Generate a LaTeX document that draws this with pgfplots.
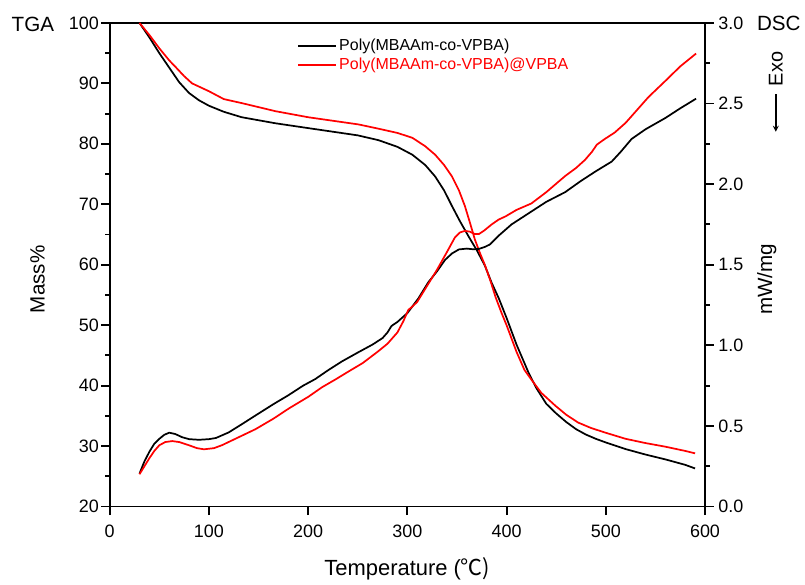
\documentclass[border=0pt]{standalone}
\usepackage{fontspec}
\setmainfont{Liberation Sans}
\newfontfamily\cjk{Noto Sans CJK SC}
\usepackage{pgfplots}
\pgfplotsset{compat=1.18}
\begin{document}
\begin{tikzpicture}[font=\fontsize{13.5}{15}\selectfont]
\pgfplotsset{
 common/.style={width=447.75pt,height=363.75pt,scale only axis,
  xmin=0,xmax=600,tick align=outside,
  axis line style={line width=1.4pt},
  every tick/.style={black,line width=1.4pt},
  major tick length=6.5pt,minor tick length=3.5pt,
  /pgf/number format/assume math mode=true,
  clip=false}
}
\begin{axis}[common,
  ymin=20,ymax=100,
  xtick={0,100,...,600},ytick={20,30,...,100},minor y tick num=1,
  xtick pos=bottom,ytick pos=left,
  yticklabel style={inner sep=1.5pt},
  xticklabel style={inner sep=1pt,yshift=-6pt},
  xlabel={Temperature (\cjk{℃})},
  xlabel style={at={(axis description cs:0.5,0)},anchor=center,yshift=-46.5pt,font=\fontsize{16.5}{18}\selectfont},
  ylabel={Mass\%},
  ylabel style={at={(axis description cs:-0.121,0.47)},anchor=center,font=\fontsize{15.5}{17}\selectfont},
  legend style={draw=none,fill=none,at={(axis description cs:0.313,0.975)},anchor=north west,
    font=\fontsize{12}{13.5}\selectfont,row sep=0pt,inner sep=1pt},
  legend cell align=left,
  legend image code/.code={\draw[#1,line width=1.3pt] (0pt,0pt)--(28pt,0pt);}
 ]
 \addplot[black,line width=1.3pt,line join=round] coordinates {
 (30,100) (40,97.6) (50,95.0) (60,92.6) (70,90.2) (80,88.4) (90,87.2) (100,86.3)
 (115,85.3) (133,84.4) (167,83.4) (200,82.6) (250,81.4) (271,80.6) (290,79.5)
 (305,78.2) (318,76.5) (328,74.6) (337,72.3) (345,69.7) (353,67.2) (362,64.6)
 (370,62.4) (378,59.9) (385,57.0) (392,54.5) (400,51.2) (410,46.8) (422,42.2)
 (430,39.6) (440,37.0) (450,35.4) (460,34.0) (470,32.8) (480,31.9) (490,31.2)
 (500,30.6) (520,29.5) (540,28.6) (560,27.8) (580,26.9) (590,26.3)};
 \addlegendentry{Poly(MBAAm-co-VPBA)}
 \addplot[red,line width=1.3pt,line join=round] coordinates {
 (30,100) (40,98.0) (50,95.8) (60,93.8) (67,92.6) (75,91.2) (83,90.0) (100,88.7)
 (115,87.4) (134,86.7) (167,85.4) (200,84.4) (251,83.2) (271,82.5) (290,81.8)
 (305,81.0) (318,79.6) (328,78.2) (337,76.5) (345,74.6) (352,72.3) (358,69.7)
 (363,67.0) (368,64.2) (373,62.0) (378.5,59.8) (384,57.2) (389,54.6) (395,52.0)
 (400,50.0) (410,45.6) (418,42.6) (425,41.0) (435,38.8) (449,36.7) (460,35.2)
 (472,33.9) (485,33.0) (500,32.2) (520,31.2) (540,30.5) (560,29.9) (580,29.2) (590,28.8)};
 \addlegendentry{\textcolor{red}{Poly(MBAAm-co-VPBA)@VPBA}}
 \node[anchor=center,font=\fontsize{15.5}{17}\selectfont] at (axis description cs:-0.129,0.996) {TGA};
 \path (axis description cs:-0.1843,-0.1526) (axis description cs:1.1642,1.0474);
\end{axis}
\begin{axis}[common,
  ymin=0,ymax=3,
  axis x line=none,axis y line*=right,
  ytick={0,0.5,...,3},minor y tick num=1,
  yticklabel style={/pgf/number format/.cd,fixed,fixed zerofill,precision=1},
  ylabel={mW/mg},
  ylabel style={at={(axis description cs:1.104,0.47)},anchor=center,font=\fontsize{15.5}{17}\selectfont},
 ]
 \addplot[black,line width=1.3pt,line join=round] coordinates {
 (30,0.204) (35,0.28) (40,0.34) (45,0.39) (50,0.42) (55,0.445) (60,0.458) (66,0.45)
 (73,0.43) (80,0.418) (90,0.414) (100,0.418) (107,0.425) (120,0.46) (133,0.51)
 (147,0.565) (165,0.635) (180,0.69) (195,0.75) (207,0.79) (220,0.845) (234,0.90)
 (250,0.955) (265,1.005) (275,1.045) (280,1.08) (284,1.12) (290,1.145) (300,1.20)
 (311,1.29) (321,1.39) (330,1.46) (338,1.53) (345,1.57) (352,1.595) (360,1.60)
 (366,1.596) (372,1.598) (378,1.61) (383,1.625) (392,1.68) (405,1.75) (415,1.79)
 (425,1.83) (440,1.89) (459,1.95) (475,2.02) (490,2.08) (506,2.14) (515,2.20)
 (526,2.28) (540,2.34) (560,2.41) (575,2.47) (591,2.53)};
 \addplot[red,line width=1.3pt,line join=round] coordinates {
 (30,0.20) (35,0.25) (40,0.30) (45,0.345) (50,0.38) (56,0.40) (63,0.406) (70,0.40)
 (80,0.38) (88,0.362) (95,0.355) (105,0.362) (113,0.38) (130,0.43) (147,0.48)
 (165,0.545) (181,0.61) (200,0.68) (214,0.74) (228,0.79) (240,0.835) (255,0.89)
 (270,0.96) (280,1.01) (290,1.08) (296,1.15) (301,1.22) (305,1.24) (310,1.27)
 (320,1.37) (330,1.47) (340,1.58) (348,1.67) (353,1.70) (358,1.71) (363,1.705)
 (368,1.69) (372,1.69) (377,1.71) (385,1.75) (392,1.78) (399,1.80) (410,1.84)
 (425,1.88) (440,1.95) (459,2.05) (470,2.10) (479,2.15) (486,2.20) (491,2.245)
 (499,2.28) (509,2.32) (520,2.38) (543,2.54) (560,2.64) (575,2.73) (591,2.81)};
 \node[anchor=center,font=\fontsize{15.5}{17}\selectfont] at (axis description cs:1.124,0.998) {DSC};
 \node[rotate=90,anchor=center,font=\fontsize{15}{17}\selectfont] at (axis description cs:1.119,0.905) {Exo};
 \draw[-stealth,line width=1pt] (axis description cs:1.119,0.852) -- (axis description cs:1.119,0.775);
\end{axis}
\end{tikzpicture}
\end{document}
